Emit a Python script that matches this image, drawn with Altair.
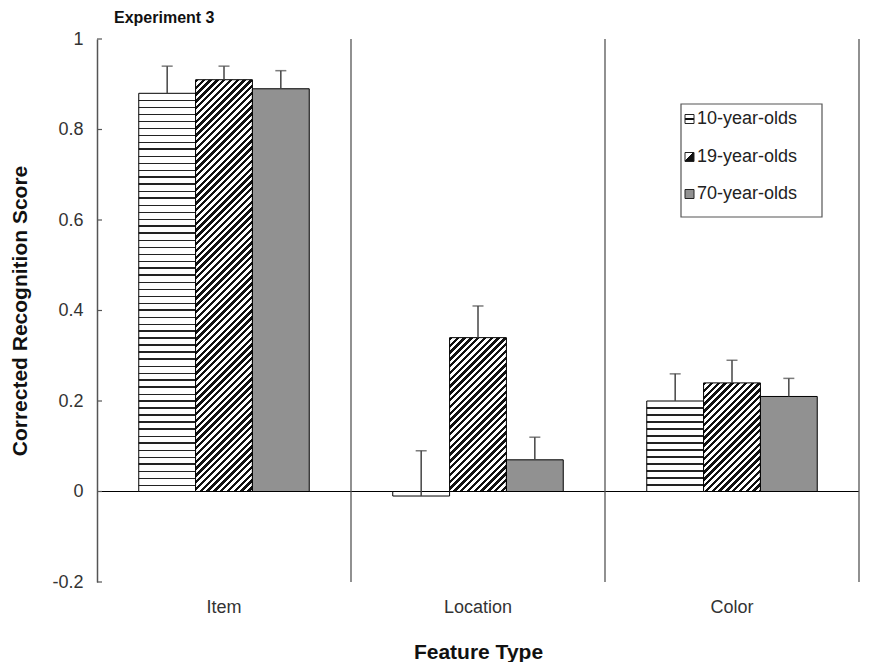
import altair as alt
import pandas as pd

# ---------------- data ----------------
features = ["Item", "Location", "Color"]
ages = ["10-year-olds", "19-year-olds", "70-year-olds"]
scores_10 = [0.88, -0.01, 0.20]
scores_19 = [0.91, 0.34, 0.24]
scores_70 = [0.89, 0.07, 0.21]
se_10 = [0.06, 0.10, 0.06]
se_19 = [0.03, 0.07, 0.05]
se_70 = [0.04, 0.05, 0.04]
y_ticks = [-0.2, 0, 0.2, 0.4, 0.6, 0.8, 1]
chart_title = ["Experiment 3"]

rows = []
for age, sc, se in zip(ages, [scores_10, scores_19, scores_70], [se_10, se_19, se_70]):
    for f, v, e in zip(features, sc, se):
        rows.append({"feature": f, "age": age, "value": v, "se": e})
df = pd.DataFrame(rows)

# ---------------- layout / style ----------------
W, H = 762, 543
PAD_L, PAD_T, PAD_R, PAD_B = 89, 31, 2, 80
Y_MIN, Y_MAX = -0.2, 1.0
PX = H / (Y_MAX - Y_MIN)
OUTER = 0.735
BAR_W = (W / len(features)) / (len(ages) + 2 * OUTER)
FONT = "Liberation Sans"
INK = "#111111"


def hstripe_fill(h, period=7.0, thick=1.5):
    if h < period:
        return "white"
    lines = []
    k = 1
    while h - k * period > 0.5:
        a = h - k * period
        lines.append((a, min(a + thick, h)))
        k += 1
    lines.sort()
    stops = [{"offset": 0, "color": "white"}]
    for a, b in lines:
        stops += [{"offset": a / h, "color": "white"}, {"offset": a / h, "color": "#222"},
                  {"offset": b / h, "color": "#222"}, {"offset": b / h, "color": "white"}]
    stops.append({"offset": 1, "color": "white"})
    return {"gradient": "linear", "x1": 0, "y1": 0, "x2": 0, "y2": 1, "stops": stops}


def dstripe_fill(w, h, period=6.8, frac=0.5):
    L = w + h
    d = w * w + h * h
    x2 = w * L / d
    y2 = h * L / d
    stops = [{"offset": 0, "color": "white"}]
    k = 0
    while k * period < L:
        a = (k * period) / L
        b = min((k * period + frac * period) / L, 1)
        if a > 0:
            stops.append({"offset": a, "color": "white"})
        stops += [{"offset": a, "color": INK}, {"offset": b, "color": INK}, {"offset": b, "color": "white"}]
        k += 1
    stops.append({"offset": 1, "color": "white"})
    return {"gradient": "linear", "x1": 0, "y1": 0, "x2": x2, "y2": y2, "stops": stops}


x_axis = alt.Axis(title="Feature Type", labelAngle=0, domain=False, ticks=False, tickSize=0,
                  labelFontSize=18, labelColor="#333", labelPadding=16, labelFont=FONT,
                  titleFontSize=21, titleFontWeight="bold", titleColor=INK, titlePadding=25, titleFont=FONT)
x_scale = alt.Scale(domain=features, paddingInner=0, paddingOuter=0)
x_enc = alt.X("feature:N", sort=features, scale=x_scale, axis=x_axis)
xo_enc = alt.XOffset("age:N", sort=ages, scale=alt.Scale(domain=ages, paddingInner=0, paddingOuter=OUTER))

y_scale = alt.Scale(domain=[Y_MIN, Y_MAX], nice=False, zero=False)
y_axis = alt.Axis(values=y_ticks,
                  labelExpr="(datum.value < 0 ? '-' : '') + format(abs(datum.value), '~g')",
                  ticks=False, tickSize=0, grid=False, domainColor="#555", domainWidth=1.5,
                  labelFontSize=18, labelColor="#333", labelPadding=14, labelFont=FONT,
                  title="Corrected Recognition Score", titleFontSize=21, titleFontWeight="bold",
                  titleColor=INK, titleFont=FONT, titleAngle=270, titleX=-77, titleY=H / 2,
                  titleBaseline="middle", titleAlign="center")


def Y(field):
    return alt.Y(field, scale=y_scale, axis=y_axis)


base = alt.Chart(df)
layers = []

# zero line
layers.append(alt.Chart(pd.DataFrame({"z": [0]})).mark_rule(color="#000", strokeWidth=1.2).encode(y=Y("z:Q")))

# group separators
layers.append(alt.Chart(pd.DataFrame({"feature": features})).mark_rule(color="#555", strokeWidth=1.3).encode(
    x=alt.X("feature:N", sort=features, scale=x_scale, axis=x_axis, bandPosition=1)))

# striped bars (one layer per bar, each with its own pattern)
for f, v in zip(features, scores_10):
    flt = f"datum.feature == '{f}' && datum.age == '{ages[0]}'"
    layers.append(base.transform_filter(flt).mark_bar(fill=hstripe_fill(abs(v) * PX), stroke="#000", strokeWidth=1)
                  .encode(x=x_enc, xOffset=xo_enc, y=Y("value:Q")))
for f, v in zip(features, scores_19):
    flt = f"datum.feature == '{f}' && datum.age == '{ages[1]}'"
    layers.append(base.transform_filter(flt).mark_bar(fill=dstripe_fill(BAR_W, abs(v) * PX), stroke="#000", strokeWidth=1)
                  .encode(x=x_enc, xOffset=xo_enc, y=Y("value:Q")))
layers.append(base.transform_filter(f"datum.age == '{ages[2]}'").mark_bar(fill="#919191", stroke="#000", strokeWidth=1)
              .encode(x=x_enc, xOffset=xo_enc, y=Y("value:Q")))

# error bars (upper only)
err = base.transform_calculate(top="datum.value + datum.se")
layers.append(err.mark_rule(color="#444", strokeWidth=1.5).encode(x=x_enc, xOffset=xo_enc, y=Y("value:Q"), y2="top:Q"))
layers.append(err.mark_tick(orient="horizontal", size=11, thickness=1.5, color="#444")
              .encode(x=x_enc, xOffset=xo_enc, y=Y("top:Q")))

# inward y ticks
layers.append(alt.Chart(pd.DataFrame({"t": y_ticks})).mark_rule(color="#555", strokeWidth=1.2)
              .encode(x=alt.value(0), x2=alt.value(5), y=Y("t:Q")))

# legend
one = pd.DataFrame({"a": [0]})
layers.append(alt.Chart(one).mark_rect(fill="white", stroke="#555", strokeWidth=1.2)
              .encode(x=alt.value(584), x2=alt.value(725), y=alt.value(65), y2=alt.value(178)))
sw_fills = [
    {"gradient": "linear", "x1": 0, "y1": 0, "x2": 0, "y2": 1,
     "stops": [{"offset": 0, "color": "white"}, {"offset": 0.42, "color": "white"},
               {"offset": 0.42, "color": INK}, {"offset": 0.6, "color": INK},
               {"offset": 0.6, "color": "white"}, {"offset": 1, "color": "white"}]},
    {"gradient": "linear", "x1": 0, "y1": 0, "x2": 1, "y2": 1,
     "stops": [{"offset": 0, "color": "white"}, {"offset": 0.45, "color": "white"},
               {"offset": 0.45, "color": INK}, {"offset": 1, "color": INK}]},
    "#919191",
]
leg_y = [80, 118, 155]
for age, fill, yc in zip(ages, sw_fills, leg_y):
    layers.append(alt.Chart(one).mark_rect(fill=fill, stroke="#222", strokeWidth=1)
                  .encode(x=alt.value(588), x2=alt.value(597), y=alt.value(yc - 4.5), y2=alt.value(yc + 4.5)))
    layers.append(alt.Chart(pd.DataFrame({"label": [age]})).mark_text(
        align="left", baseline="middle", fontSize=18, color="#222", font=FONT)
        .encode(text="label:N", x=alt.value(600), y=alt.value(yc)))

# chart title
layers.append(alt.Chart(pd.DataFrame({"t": chart_title})).mark_text(
    align="left", baseline="middle", fontSize=16, fontWeight="bold", color=INK, font=FONT)
    .encode(text="t:N", x=alt.value(17), y=alt.value(-21)))

chart = alt.layer(*layers).properties(
    width=W, height=H,
    autosize=alt.AutoSizeParams(type="none"),
    padding={"left": PAD_L, "top": PAD_T, "right": PAD_R, "bottom": PAD_B},
).configure_view(stroke=None)

chart.save("out.html", embed_options={"renderer": "svg", "actions": False})
